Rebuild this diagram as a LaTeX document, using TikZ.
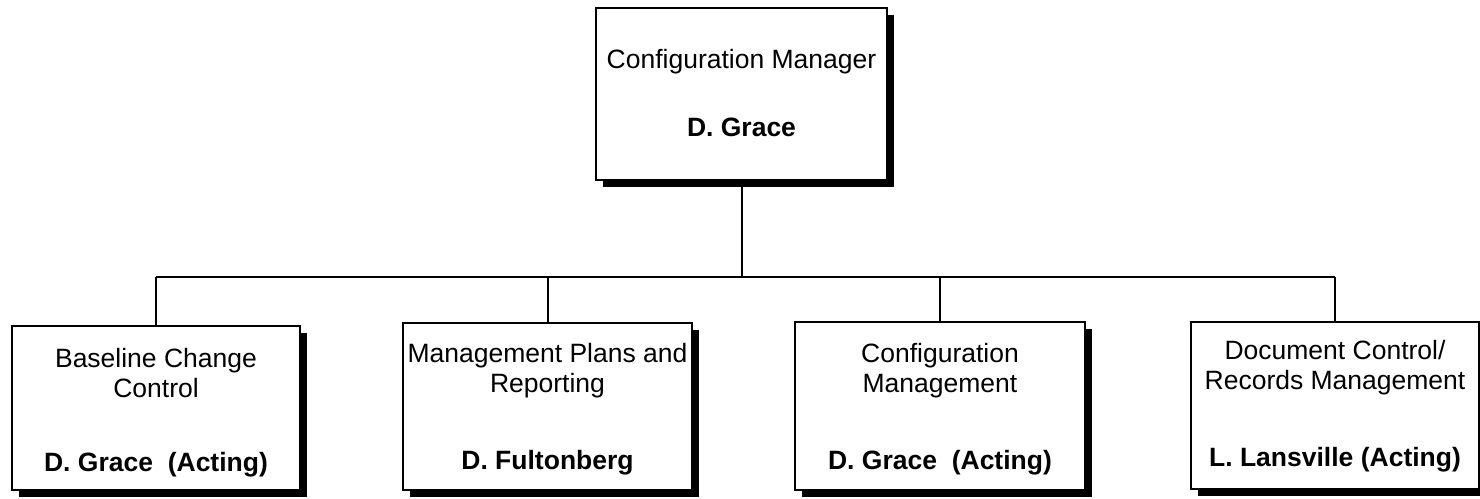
\documentclass[tikz,border=0pt]{standalone}
\usepackage{fontspec}
\setmainfont{Liberation Sans}
\usetikzlibrary{shadows}
\begin{document}
\begin{tikzpicture}[x=1pt,y=-1pt,
  orgbox/.style={draw=black, line width=2pt, fill=white, rectangle, inner sep=0pt,
    drop shadow={shadow xshift=7pt, shadow yshift=-7pt, fill=black, opacity=1}},
  title/.style={align=center, font=\fontsize{26.5}{30}\selectfont, inner sep=0pt},
  person/.style={font=\fontsize{26.5}{30}\selectfont\bfseries, inner sep=0pt},
  link/.style={draw=black, line width=2pt}]
\useasboundingbox (0,0) rectangle (1480,498);

% top-level box
\node[orgbox, minimum width=291pt, minimum height=172pt] (cm) at (741.5,94) {};
\node[title]  (cmt) at (741.5,62)  {Configuration Manager};
\node[person] (cmn) at (741.5,127) {D. Grace};

% second-level boxes
\node[orgbox, minimum width=288pt, minimum height=164pt] (b1) at (156,408) {};
\node[orgbox, minimum width=289pt, minimum height=167pt] (b2) at (547.5,406.5) {};
\node[orgbox, minimum width=290pt, minimum height=168pt] (b3) at (940,406) {};
\node[orgbox, minimum width=288pt, minimum height=167pt] (b4) at (1335,405) {};

\node[title]  (b1t) at (156,373)   {Baseline Change\\Control};
\node[person] (b1n) at (156,465)   {D. Grace\ \ (Acting)};
\node[title]  (b2t) at (547.5,371) {Management Plans and\\Reporting};
\node[person] (b2n) at (547.5,463) {D. Fultonberg};
\node[title]  (b3t) at (940,371)   {Configuration\\Management};
\node[person] (b3n) at (940,463)   {D. Grace\ \ (Acting)};
\node[title]  (b4t) at (1335,368)  {Document Control/\\Records Management};
\node[person] (b4n) at (1335,460)  {L. Lansville (Acting)};

% connectors
\coordinate (bus) at (741.5,277);
\draw[link] (cm.south) -- (cm.south |- bus);
\draw[link] (b1.north |- bus) -- (b4.north |- bus);
\foreach \b in {b1,b2,b3,b4}
  \draw[link] (\b.north |- bus) -- (\b.north);
\end{tikzpicture}
\end{document}
